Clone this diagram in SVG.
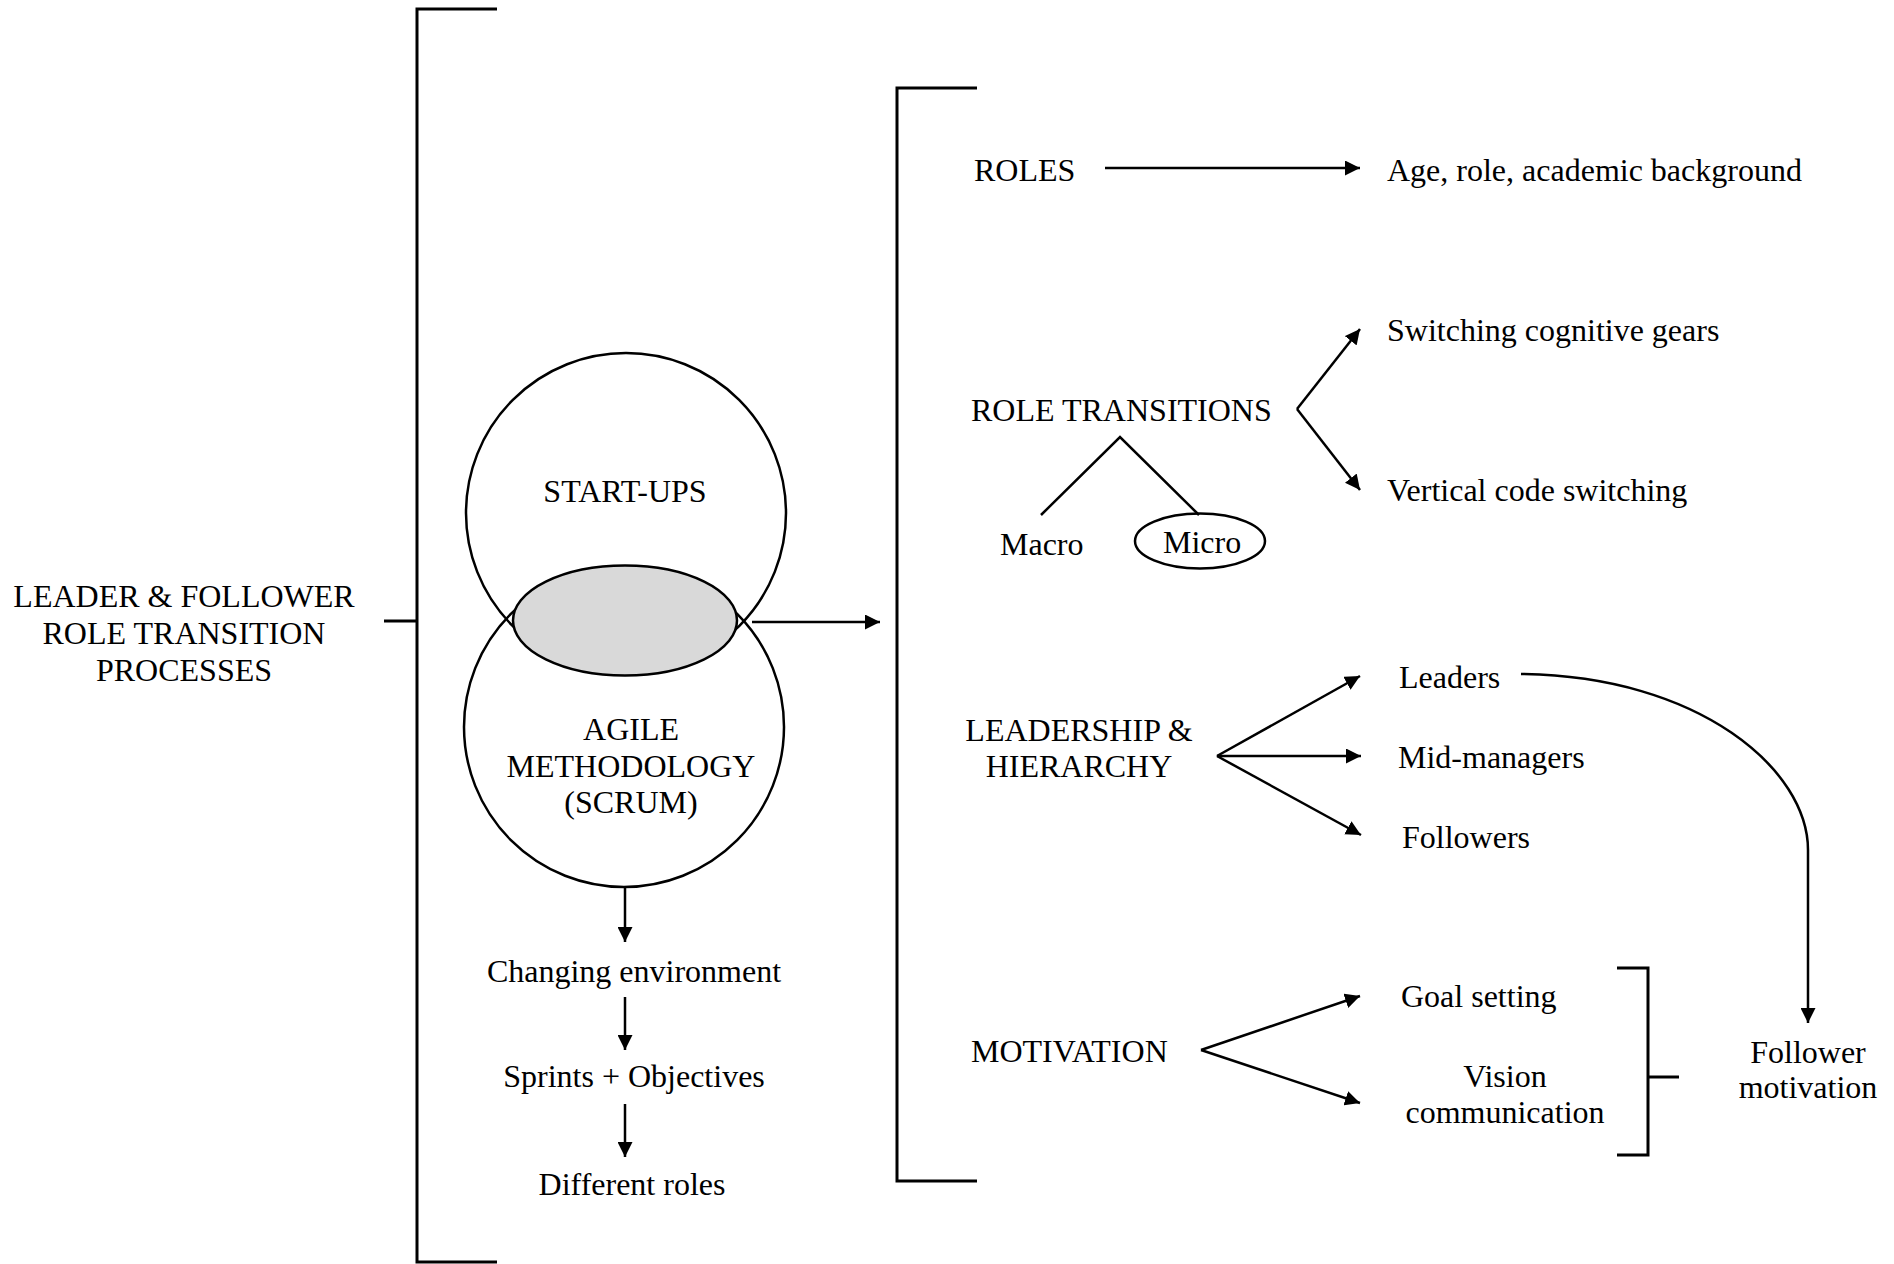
<svg xmlns="http://www.w3.org/2000/svg" width="1894" height="1264" viewBox="0 0 1894 1264">
  <style>
    text { font-family: "Liberation Serif", "Times New Roman", serif; font-size: 32px; fill: #000; }
    .mid { text-anchor: middle; }
    .ln { fill: none; stroke: #000; stroke-width: 2.5; }
    .br { fill: none; stroke: #000; stroke-width: 3; }
    .arr { fill: none; stroke: #000; stroke-width: 2.5; marker-end: url(#head); }
  </style>
  <defs>
    <marker id="head" markerUnits="userSpaceOnUse" markerWidth="16" markerHeight="15" refX="15" refY="7.5" orient="auto">
      <path d="M0,0 L15,7.5 L0,15 z" fill="#000"/>
    </marker>
  </defs>
  <rect width="1894" height="1264" fill="#fff"/>

  <!-- outer bracket with the overall title -->
  <g id="title">
    <text class="mid" x="184" y="607">LEADER &amp; FOLLOWER</text>
    <text class="mid" x="184" y="644">ROLE TRANSITION</text>
    <text class="mid" x="184" y="681">PROCESSES</text>
  </g>
  <g id="outer-bracket">
    <path class="br" d="M497,9 H417 V1262 H497"/>
    <path class="br" d="M384,621 H417"/>
  </g>

  <!-- Venn: start-ups and agile methodology -->
  <g id="startups">
    <circle class="ln" cx="626" cy="513" r="160"/>
    <text class="mid" x="625" y="502">START-UPS</text>
  </g>
  <g id="agile">
    <circle class="ln" cx="624" cy="727" r="160"/>
    <text class="mid" x="631" y="740">AGILE</text>
    <text class="mid" x="631" y="777">METHODOLOGY</text>
    <text class="mid" x="631" y="813">(SCRUM)</text>
  </g>
  <g id="overlap">
    <ellipse cx="625" cy="620.5" rx="112" ry="55" fill="#d9d9d9" stroke="#000" stroke-width="2.5"/>
  </g>

  <g id="changing-environment"><text class="mid" x="634" y="982">Changing environment</text></g>
  <g id="sprints-objectives"><text class="mid" x="634" y="1087">Sprints + Objectives</text></g>
  <g id="different-roles"><text class="mid" x="632" y="1195">Different roles</text></g>

  <!-- inner bracket -->
  <g id="inner-bracket">
    <path class="br" d="M977,88 H897 V1181 H977"/>
  </g>

  <g id="roles"><text x="974" y="181">ROLES</text></g>
  <g id="age-role"><text x="1387" y="181">Age, role, academic background</text></g>

  <g id="role-transitions"><text x="971" y="421">ROLE TRANSITIONS</text></g>
  <g id="macro"><text x="1000" y="555">Macro</text></g>
  <g id="micro">
    <ellipse class="ln" cx="1200" cy="541" rx="65" ry="27.5"/>
    <text x="1163" y="553">Micro</text>
  </g>
  <g id="switching-gears"><text x="1387" y="341">Switching cognitive gears</text></g>
  <g id="vertical-code"><text x="1387" y="501">Vertical code switching</text></g>

  <g id="leadership-hierarchy">
    <text class="mid" x="1079" y="741">LEADERSHIP &amp;</text>
    <text class="mid" x="1079" y="777">HIERARCHY</text>
  </g>
  <g id="leaders"><text x="1399" y="688">Leaders</text></g>
  <g id="mid-managers"><text x="1398" y="768">Mid-managers</text></g>
  <g id="followers"><text x="1402" y="848">Followers</text></g>

  <g id="motivation"><text x="971" y="1062">MOTIVATION</text></g>
  <g id="goal-setting"><text x="1401" y="1007">Goal setting</text></g>
  <g id="vision-communication">
    <text class="mid" x="1505" y="1087">Vision</text>
    <text class="mid" x="1505" y="1123">communication</text>
  </g>
  <g id="motivation-bracket">
    <path class="br" d="M1617,968 H1648 V1155 H1617"/>
    <path class="br" d="M1648,1077 H1679"/>
  </g>
  <g id="follower-motivation">
    <text class="mid" x="1808" y="1063">Follower</text>
    <text class="mid" x="1808" y="1098">motivation</text>
  </g>

  <!-- connectors -->
  <g id="connectors">
    <path class="arr" d="M752,622 H880"/>
    <path class="arr" d="M625,888 V942"/>
    <path class="arr" d="M625,997 V1050"/>
    <path class="arr" d="M625,1104 V1157"/>

    <path class="arr" d="M1105,168 H1360"/>

    <path class="arr" d="M1297,409 L1360,329"/>
    <path class="arr" d="M1297,409 L1360,490"/>
    <path class="ln" d="M1041,515 L1120,437 L1199,515"/>

    <path class="arr" d="M1217,756 L1360,676"/>
    <path class="arr" d="M1217,756 H1361"/>
    <path class="arr" d="M1217,756 L1361,835"/>

    <path class="arr" d="M1201,1050 L1360,996"/>
    <path class="arr" d="M1201,1050 L1360,1103"/>

    <path class="arr" d="M1521,674 C1700,676 1808,770 1808,850 V1023"/>
  </g>
</svg>
